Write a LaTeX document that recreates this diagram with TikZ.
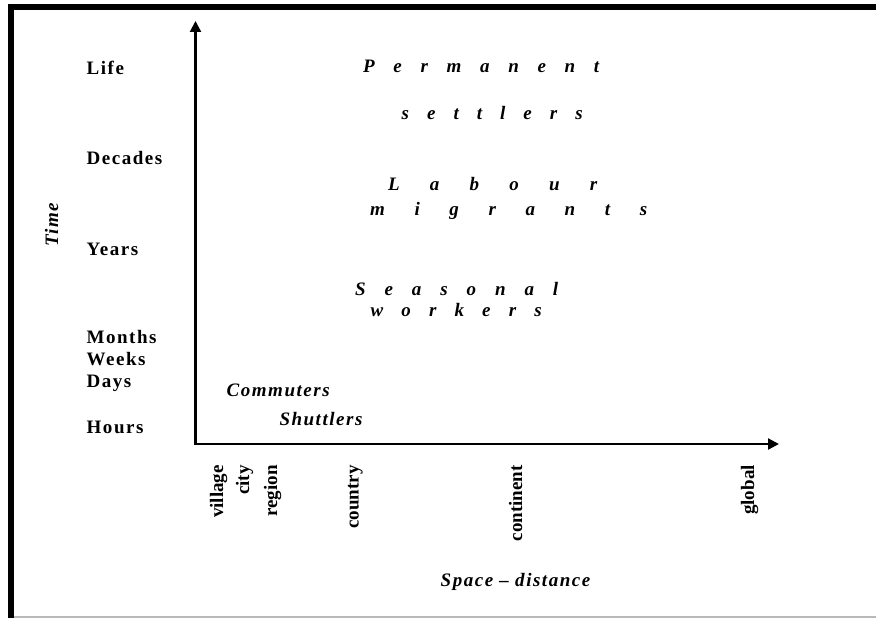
\documentclass[tikz,border=0pt]{standalone}
\usepackage{fontspec}
\setmainfont{Liberation Serif}
\usetikzlibrary{arrows.meta}
\tikzset{
  axlab/.style={inner sep=0pt, anchor=base west, font=\fontsize{19}{22}\selectfont\bfseries\addfontfeature{LetterSpace=8}},
  grp/.style={inner sep=0pt, anchor=base west, font=\fontsize{19}{22}\selectfont\bfseries\itshape\addfontfeature{LetterSpace=8}},
  vlab/.style={inner sep=0pt, anchor=base east, rotate=90, font=\fontsize{19}{22}\selectfont\bfseries},
  axis/.style={line width=2.3pt, -{Triangle[length=11pt,width=11pt]}},
}
\newcommand{\spreadword}[2]{\makebox[#1][s]{#2}}
\begin{document}
\begin{tikzpicture}[x=1pt,y=-1pt]
\useasboundingbox (0,0) rectangle (876,618);
% frame
\draw[line width=5.5pt, line join=miter] (11.2,618) -- (11.2,7.2) -- (876,7.2);
\draw[gray!55, line width=1.2pt] (14,617) -- (876,617);
% axes
\coordinate (O) at (195.5,444);
\coordinate (ytip) at (195.5,21);
\coordinate (xtip) at (779,444);
\draw[axis] ([yshift=-1.15pt]O) -- (ytip);
\draw[axis] ([xshift=-1.15pt]O) -- (xtip);
% time labels
\node[axlab] (life) at (86.5,75) {Life};
\node[axlab] (decades) at (86.5,164) {Decades};
\node[axlab] (years) at (86.5,255) {Years};
\node[axlab] (months) at (86.5,343) {Months};
\node[axlab] (weeks) at (86.5,365.5) {Weeks};
\node[axlab] (days) at (86.5,387) {Days};
\node[axlab] (hours) at (86.5,433) {Hours};
\node[grp, anchor=base, rotate=90] (time) at (58,225) {Time};
% groups
\node[grp] (perm) at (363,73) {\spreadword{236pt}{P e r m a n e n t}};
\node[grp] (sett) at (401.5,120) {\spreadword{181pt}{s e t t l e r s}};
\node[grp] (lab) at (388,190.5) {\spreadword{209pt}{L a b o u r}};
\node[grp] (migr) at (370,215) {\spreadword{277pt}{m i g r a n t s}};
\node[grp] (seas) at (355,295) {\spreadword{203pt}{S e a s o n a l}};
\node[grp] (work) at (370.5,316.5) {\spreadword{171pt}{w o r k e r s}};
\node[grp] (comm) at (226.5,396.5) {Commuters};
\node[grp] (shut) at (279.3,425) {Shuttlers};
% space labels
\node[vlab] (village) at (223,465) {village};
\node[vlab] (city) at (249,465) {city};
\node[vlab] (region) at (277,465) {region};
\node[vlab] (country) at (358.5,465) {country};
\node[vlab] (continent) at (522,465) {continent};
\node[vlab] (global) at (754,465) {global};
\node[grp] (space) at (440.5,586) {Space -- distance};
\end{tikzpicture}
\end{document}
